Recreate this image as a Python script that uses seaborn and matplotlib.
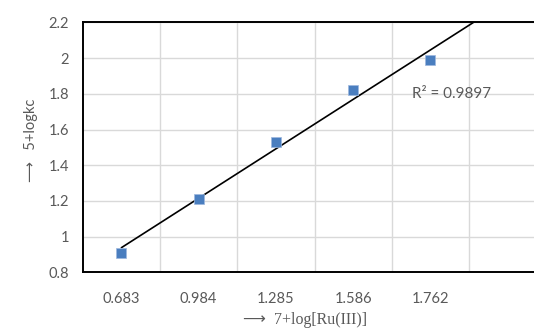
import numpy as np
import pandas as pd
import matplotlib
matplotlib.use("Agg")
import matplotlib.pyplot as plt
import seaborn as sns

# Data
x_labels = ["0.683", "0.984", "1.285", "1.586", "1.762"]
y_values = [0.91, 1.21, 1.53, 1.82, 1.99]
y_ticks = [0.8, 1.0, 1.2, 1.4, 1.6, 1.8, 2.0, 2.2]
y_tick_labels = ["0.8", "1", "1.2", "1.4", "1.6", "1.8", "2", "2.2"]
r2_label = "R² = 0.9897"
x_title = "⟶  7+log[Ru(III)]"
y_title = "⟶   5+logkc"

sns.set_theme(style="white")
plt.rcParams['font.family'] = ['Lato', 'DejaVu Sans']

gray = "#595959"
df = pd.DataFrame({"x": x_labels, "y": y_values})

fig = plt.figure(figsize=(5.34, 3.34), dpi=100)
ax = fig.add_axes([0.155, 0.1847, 0.868, 0.748])

# trend line (linear fit over category index, forecast forward one period)
idx = np.arange(len(y_values))
slope, intercept = np.polyfit(idx, y_values, 1)
xx = np.array([0, len(y_values)])
ax.plot(xx, slope * xx + intercept, color="black", lw=1.2, zorder=3)

sns.scatterplot(data=df, x="x", y="y", ax=ax, marker="s", s=62,
                color="#4A7EBF", edgecolor="#9DB8DE", linewidth=0.5, zorder=4)

ax.set_xlim(-0.5, len(y_values) + 0.5)
ax.set_ylim(0.8, 2.2)
ax.set_yticks(y_ticks)
ax.set_yticklabels(y_tick_labels)
ax.set_xticks(idx)
ax.set_xticklabels(x_labels)
ax.set_xticks(np.arange(0.5, len(y_values) + 0.5, 1.0), minor=True)

ax.grid(False)
ax.yaxis.grid(True, color="#D9D9D9", lw=1.0)
ax.xaxis.grid(True, which="minor", color="#D9D9D9", lw=1.0)
ax.set_axisbelow(True)

ax.tick_params(axis="both", which="both", length=0, colors=gray, labelsize=10.5)
ax.tick_params(axis="y", pad=10)
ax.tick_params(axis="x", pad=14)

for s in ["left", "bottom", "top", "right"]:
    ax.spines[s].set_color("black")
    ax.spines[s].set_linewidth(1.4)

ax.set_xlabel(x_title, family=["Liberation Serif", "DejaVu Sans"], fontsize=11.5,
              color=gray)
ax.xaxis.set_label_coords(0.479, -0.16)
ax.set_ylabel(y_title, family=["Lato", "DejaVu Sans"], fontsize=10.5,
              color=gray)
ax.yaxis.set_label_coords(-0.096, 0.53)

ax.text(3.76, 1.8, r2_label, color=gray, fontsize=11, va="center", ha="left")

fig.savefig("out.png", dpi=100)
